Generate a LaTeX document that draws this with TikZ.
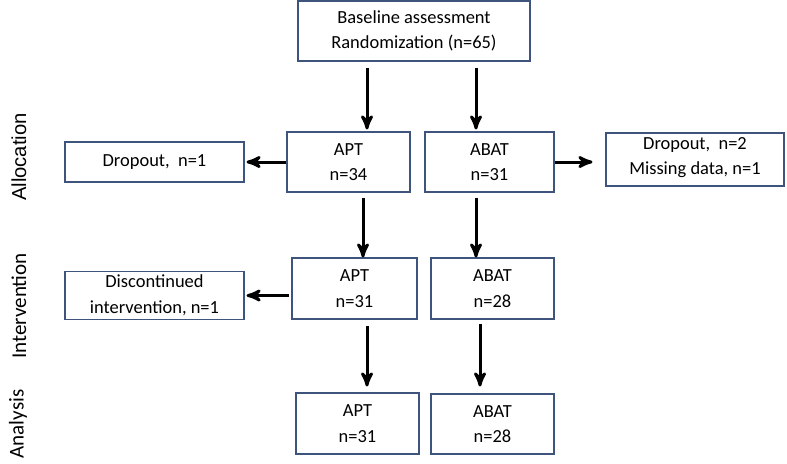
\documentclass[tikz,border=0pt]{standalone}
\usepackage{fontspec}
\setmainfont{Carlito}
\newfontfamily\arialfont{Liberation Sans}
\usetikzlibrary{%
  arrows,%
  positioning,% wg. " of "
  calc
}
\definecolor{boxblue}{RGB}{62,84,124}

\begin{document}
\begin{tikzpicture}[
  font=\fontsize{10.5}{14.5}\selectfont, >=stealth', line width=0.6pt,
  stage/.style={rectangle, draw=boxblue, fill=white, align=center, inner sep=2pt},
  flow/.style={->, line width=1.7pt, draw=black},
  phase/.style={rotate=90, font=\fontsize{12}{14}\selectfont}
]
\useasboundingbox (0,0) rectangle (15.74,-9.26);

% top
\node[stage, minimum width=4.64cm, minimum height=1.2cm] (base) at (8.28,-0.62)
  {Baseline assessment\\Randomization (n=65)};

% allocation
\node[stage, minimum width=2.46cm, minimum height=1.2cm] (aptA) at (6.97,-3.24) {APT\\n=34};
\node[stage, minimum width=2.58cm, minimum height=1.2cm] (abatA) at (9.79,-3.24) {ABAT\\n=31};
\node[stage, minimum width=3.58cm, minimum height=0.8cm] (dropA) at (3.09,-3.24) {Dropout,\ \ n=1};
\node[stage, minimum width=3.56cm, minimum height=1.06cm, text depth=0.8ex] (dropB) at (13.90,-3.19)
  {Dropout,\ \ n=2\\Missing data, n=1};

% intervention
\node[stage, minimum width=2.5cm, minimum height=1.22cm] (aptI) at (7.09,-5.77) {APT\\n=31};
\node[stage, minimum width=2.46cm, minimum height=1.22cm] (abatI) at (9.85,-5.77) {ABAT\\n=28};
\node[stage, minimum width=3.58cm, minimum height=0.78cm] (disc) at (3.09,-5.91)
  {Discontinued\\intervention, n=1};

% analysis
\node[stage, minimum width=2.46cm, minimum height=1.22cm] (aptY) at (7.15,-8.47) {APT\\n=31};
\node[stage, minimum width=2.46cm, minimum height=1.2cm] (abatY) at (9.85,-8.48) {ABAT\\n=28};

% phases
\node[phase, font=\arialfont\fontsize{11.5}{14}\selectfont] (lalloc) at (0.38,-3.14) {Allocation};
\node[phase] (linterv) at (0.38,-6.12) {Intervention};
\node[phase] (lanal) at (0.36,-8.48) {Analysis};

% arrows
\draw[flow, shorten <=1.2mm, shorten >=0.4mm]
  ([xshift=3.7mm]aptA.north |- base.south) -- ([xshift=3.7mm]aptA.north);
\draw[flow, shorten <=1.2mm, shorten >=0.4mm]
  ([xshift=-2.7mm]abatA.north |- base.south) -- ([xshift=-2.7mm]abatA.north);
\draw[flow, shorten <=1mm]
  ([xshift=2.9mm]aptA.south) -- ([xshift=2.9mm]aptA.south |- aptI.north);
\draw[flow, shorten <=1mm]
  ([xshift=-2.7mm]abatA.south) -- ([xshift=-2.7mm]abatA.south |- abatI.north);
\draw[flow, shorten <=1.2mm, shorten >=1.2mm]
  ([xshift=2.5mm]aptI.south) -- ([xshift=2.5mm]aptI.south |- aptY.north);
\draw[flow, shorten <=0.8mm, shorten >=1.4mm]
  ([xshift=-2.5mm]abatI.south) -- ([xshift=-2.5mm]abatI.south |- abatY.north);
\draw[flow, shorten >=0.4mm] (aptA.west) -- (dropA.east);
\draw[flow, shorten >=2.6mm] (abatA.east) -- (abatA.east -| dropB.west);
\draw[flow, shorten <=0.4mm, shorten >=0.4mm] (aptI.west |- disc.east) -- (disc.east);
\end{tikzpicture}
\end{document}
